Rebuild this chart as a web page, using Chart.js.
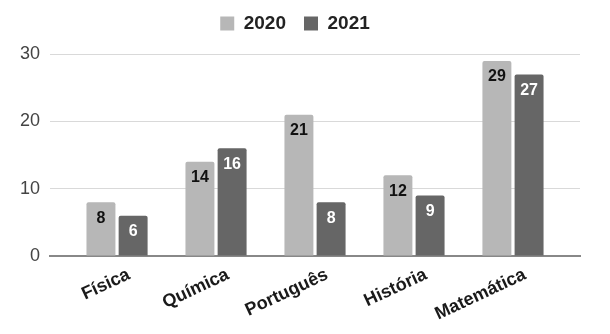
<!DOCTYPE html>
<html>
<head>
<meta charset="utf-8">
<script src="https://cdn.jsdelivr.net/npm/chart.js@4/dist/chart.umd.min.js"></script>
<style>
html,body{margin:0;padding:0;background:#fff;}
#wrap{width:610px;height:334px;position:relative;}
</style>
</head>
<body>
<div id="wrap"><canvas id="c" width="610" height="334"></canvas></div>
<script>
const categories = ['Física', 'Química', 'Português', 'História', 'Matemática'];
const seriesNames = ['2020', '2021'];
const values2020 = [8, 14, 21, 12, 29];
const values2021 = [6, 16, 8, 9, 27];
const yTicks = [0, 10, 20, 30];

const FONT = '"Liberation Sans", Arial, sans-serif';
const colors = ['#b7b7b7', '#666666'];
const labelColors = ['#111111', '#ffffff'];

const valueLabels = {
  id: 'valueLabels',
  afterDatasetsDraw(chart) {
    const ctx = chart.ctx;
    ctx.save();
    ctx.font = 'bold 16px ' + FONT;
    ctx.textAlign = 'center';
    ctx.textBaseline = 'middle';
    chart.data.datasets.forEach((ds, i) => {
      const meta = chart.getDatasetMeta(i);
      meta.data.forEach((bar, j) => {
        ctx.fillStyle = labelColors[i];
        ctx.fillText(String(ds.data[j]), bar.x, bar.y + 16);
      });
    });
    ctx.restore();
  }
};

new Chart(document.getElementById('c'), {
  type: 'bar',
  data: {
    labels: categories,
    datasets: [
      { label: seriesNames[0], data: values2020, backgroundColor: colors[0] },
      { label: seriesNames[1], data: values2021, backgroundColor: colors[1] }
    ]
  },
  options: {
    responsive: false,
    animation: false,
    devicePixelRatio: 1,
    layout: { padding: { left: 10, right: 30, top: -4, bottom: 1 } },
    datasets: {
      bar: {
        categoryPercentage: 0.65,
        barPercentage: 0.9,
        borderRadius: { topLeft: 2, topRight: 2, bottomLeft: 0, bottomRight: 0 },
        borderSkipped: 'bottom'
      }
    },
    plugins: {
      legend: {
        position: 'top',
        align: 'center',
        labels: {
          boxWidth: 14,
          boxHeight: 14,
          padding: 18,
          color: '#222',
          font: { family: FONT, size: 19, weight: 'bold' }
        }
      },
      subtitle: {
        display: true,
        text: ' ',
        weight: 500,
        font: { size: 1 },
        padding: { top: 0, bottom: 10 }
      },
      tooltip: { enabled: false }
    },
    scales: {
      x: {
        afterBuildTicks(scale) {
          const pad = 0.177;
          scale._startValue = -0.5 - pad;
          scale._valueRange = categories.length + 2 * pad;
        },
        grid: { display: false, drawTicks: false },
        border: { display: true, color: '#888888', width: 2 },
        ticks: {
          minRotation: 25,
          maxRotation: 25,
          padding: 8,
          labelOffset: 12,
          color: '#1a1a1a',
          font: { family: FONT, size: 18, weight: 'bold' }
        }
      },
      y: {
        min: 0,
        max: 30,
        afterBuildTicks(scale) {
          scale.ticks = yTicks.map(v => ({ value: v }));
        },
        grid: { color: '#d9d9d9', drawTicks: false, lineWidth: 1 },
        border: { display: false },
        ticks: {
          padding: 10,
          color: '#444',
          font: { family: FONT, size: 18 }
        }
      }
    }
  },
  plugins: [valueLabels]
});
</script>
</body>
</html>
